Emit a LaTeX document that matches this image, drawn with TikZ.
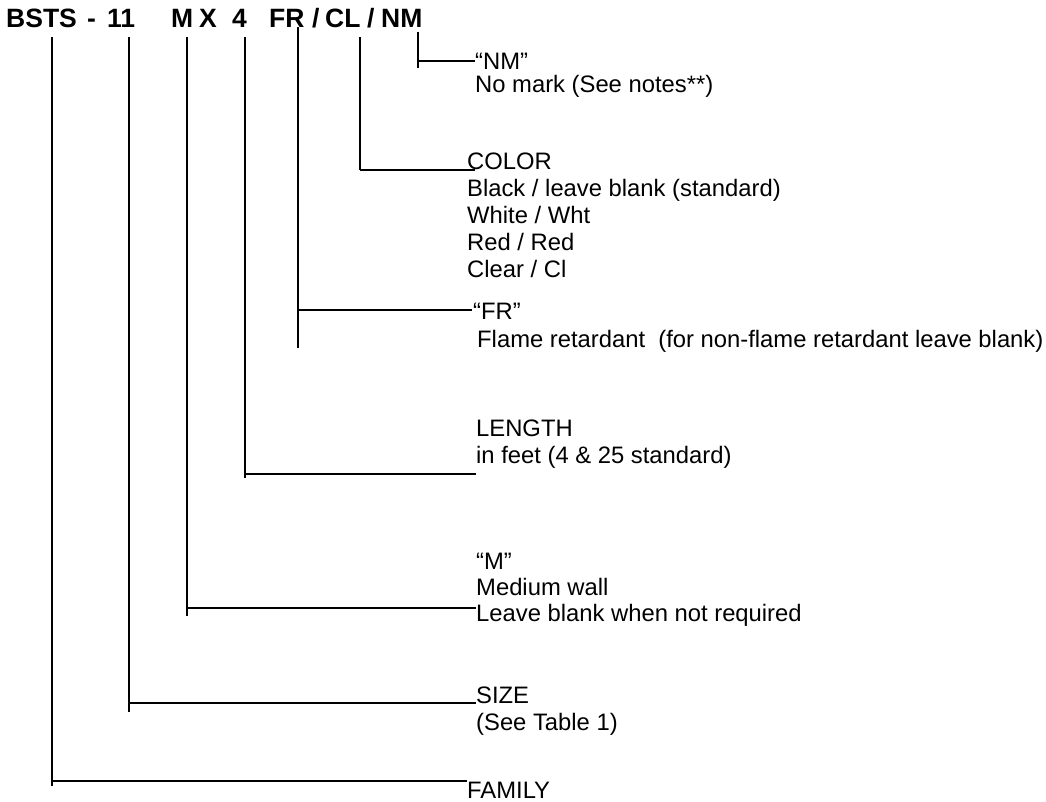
\documentclass[tikz,border=0pt]{standalone}
\usepackage{fontspec}
\setmainfont{Liberation Sans}
\usetikzlibrary{positioning}

\begin{document}
\begin{tikzpicture}[x=1pt, y=-1pt]
        \tikzstyle{code} = [inner sep=0pt, anchor=base west, font=\fontsize{26.5}{30}\selectfont\bfseries]
        \tikzstyle{note} = [inner sep=0pt, anchor=base west, align=left, font=\fontsize{23.8}{27}\selectfont]
        \tikzstyle{branch} = [line width=1.6pt]

        \useasboundingbox (0,0) rectangle (1046,801);

        % part number
        \node (fam) [code] at (6,27) {BSTS};
        \node (dash) [code] at (87,27) {-};
        \node (size) [code] at (107,27) {11};
        \node (wall) [code] at (171,27) {M};
        \node (times) [code] at (199,27) {X};
        \node (len) [code] at (232,27) {4};
        \node (fr) [code] at (269,27) {FR};
        \node (sl1) [code] at (312,27) {/};
        \node (col) [code] at (325,27) {CL};
        \node (sl2) [code] at (367,27) {/};
        \node (nm) [code] at (381,27) {NM};

        % meanings (anchored at the baseline of the last line)
        \node (lnm) [note, font=\fontsize{23.8}{23}\selectfont] at (475,92) {“NM”\\No mark (See notes**)};
        \node (lcol) [note] at (467,277) {COLOR\\Black / leave blank (standard)\\White / Wht\\Red / Red\\Clear / Cl};
        \node (lfr) [note, font=\fontsize{23.8}{28}\selectfont] at (473,347) {“FR”\\\hspace{4pt}Flame retardant\ \ (for non-flame retardant leave blank)};
        \node (llen) [note] at (476,463) {LENGTH\\in feet (4 \& 25 standard)};
        \node (lwall) [note, font=\fontsize{23.8}{26}\selectfont] at (476,621) {“M”\\Medium wall\\Leave blank when not required};
        \node (lsize) [note] at (476,730) {SIZE\\(See Table 1)};
        \node (lfam) [note] at (467,798) {FAMILY};

        \coordinate (nm-top) at (418,32);   \coordinate (nm-bot) at (418,68);   \coordinate (nm-end) at (475,61);
        \coordinate (col-top) at (360,37);  \coordinate (col-bot) at (360,170); \coordinate (col-end) at (475,170);
        \coordinate (fr-top) at (298,27);   \coordinate (fr-bot) at (298,348);  \coordinate (fr-end) at (472,310);
        \coordinate (len-top) at (245,37);  \coordinate (len-bot) at (245,478); \coordinate (len-end) at (476,474);
        \coordinate (wall-top) at (187,37); \coordinate (wall-bot) at (187,616); \coordinate (wall-end) at (476,608);
        \coordinate (size-top) at (129,37); \coordinate (size-bot) at (129,712); \coordinate (size-end) at (476,703);
        \coordinate (fam-top) at (52,37);   \coordinate (fam-bot) at (52,786);  \coordinate (fam-end) at (467,781);

        \draw [branch] (nm-top) -- (nm-bot) (nm-top |- nm-end) -- (nm-end);
        \draw [branch] (col-top) -- (col-bot) (col-top |- col-end) -- (col-end);
        \draw [branch] (fr-top) -- (fr-bot) (fr-top |- fr-end) -- (fr-end);
        \draw [branch] (len-top) -- (len-bot) (len-top |- len-end) -- (len-end);
        \draw [branch] (wall-top) -- (wall-bot) (wall-top |- wall-end) -- (wall-end);
        \draw [branch] (size-top) -- (size-bot) (size-top |- size-end) -- (size-end);
        \draw [branch] (fam-top) -- (fam-bot) (fam-top |- fam-end) -- (fam-end);
    \end{tikzpicture}
\end{document}
